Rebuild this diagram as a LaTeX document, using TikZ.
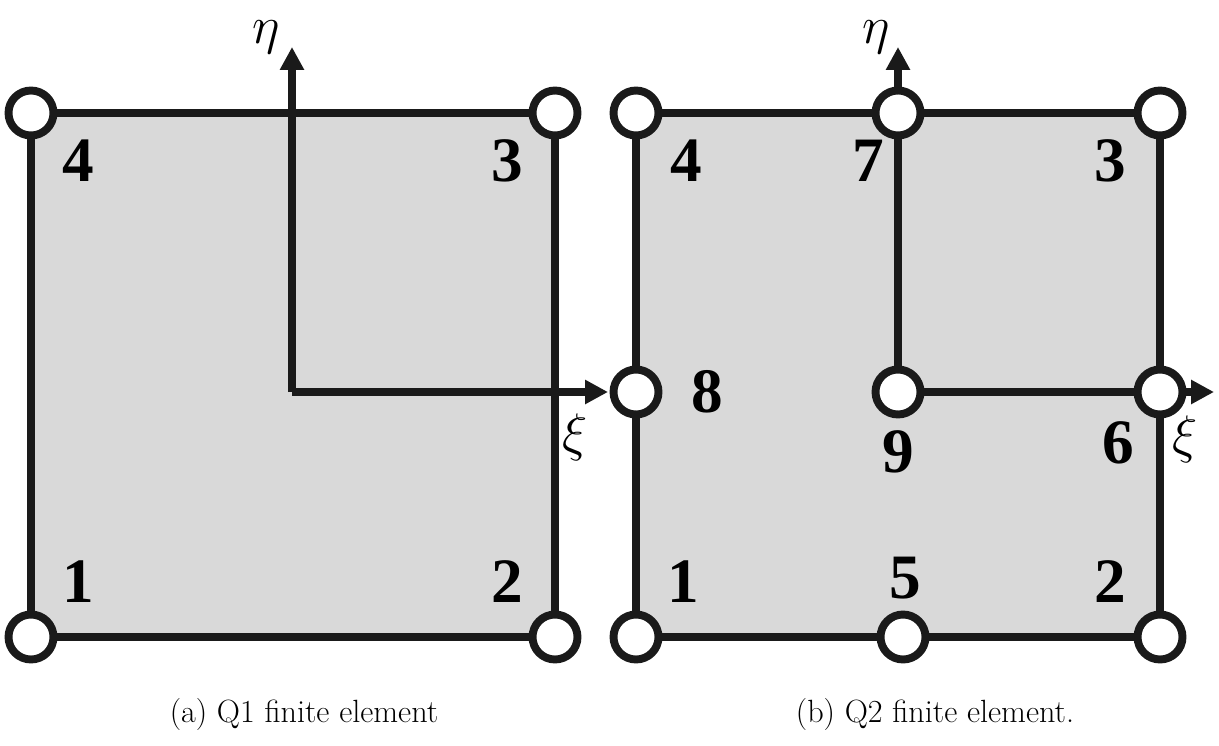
\documentclass[tikz,border=0pt]{standalone}
\usepackage{fontspec}
\usepackage{xcolor}
\usepackage{tikz}
\usetikzlibrary{arrows.meta, backgrounds}
\newfontfamily\numfont{Liberation Serif}
\definecolor{edgecol}{HTML}{1A1A1A}
\definecolor{elemfill}{HTML}{D9D9D9}
\newcommand{\axlabel}[1]{\scalebox{1.45}{$#1$}}
\tikzstyle{vertex} = [circle, draw=edgecol, fill=white, line width=4.5pt, minimum size=0.9cm, inner sep=0pt]
\tikzstyle{edge} = [draw=edgecol, line width=4.5pt]
\tikzstyle{elem} = [fill=elemfill]
\tikzstyle{axis} = [draw=edgecol, line width=4.5pt, -{Triangle[length=4.6mm, width=4.6mm]}]
\tikzstyle{num} = [font=\numfont\fontsize{36}{36}\selectfont\bfseries, inner sep=0pt]
\tikzstyle{coord} = [font=\fontsize{20.74}{20.74}\selectfont, inner sep=0pt]
\tikzstyle{caption} = [font=\fontsize{18.3}{22}\selectfont, inner sep=0pt]

\begin{document}
\begin{tikzpicture}[x=0.02cm, y=-0.02cm]
\useasboundingbox (0,0) rectangle (1219,746);
% Q1 element
\node (a1) [vertex] at (31,637) {};
\node (a2) [vertex] at (555,637) {};
\node (a3) [vertex] at (555,113) {};
\node (a4) [vertex] at (31,113) {};
\coordinate (ao) at (292,392);
\coordinate (aeta) at (292,47);
\coordinate (axi) at (608,392);
\begin{scope}[on background layer]
\fill [elem] (a1.center) rectangle (a3.center);
\draw [edge] (a1) -- (a2) -- (a3) -- (a4) -- (a1);
\end{scope}
\draw [axis] (ao) -- (aeta);
\draw [axis] (ao) -- (axi);
\node (la1) [num] at (78,582) {1};
\node (la2) [num] at (507,582) {2};
\node (la3) [num] at (507,161) {3};
\node (la4) [num] at (78,161) {4};
\node (leta) [coord, anchor=north] at (266,20) {\axlabel{\eta}};
\node (lxi) [coord] at (575,437) {\axlabel{\xi}};
% Q2 element
\node (b1) [vertex] at (636,637) {};
\node (b2) [vertex] at (1160,637) {};
\node (b3) [vertex] at (1160,113) {};
\node (b4) [vertex] at (636,113) {};
\node (b5) [vertex] at (903,637) {};
\node (b6) [vertex] at (1160,392) {};
\node (b7) [vertex] at (898,113) {};
\node (b8) [vertex] at (636,392) {};
\node (b9) [vertex] at (898,392) {};
\coordinate (beta) at (898,47);
\coordinate (bxi) at (1214,392);
\begin{scope}[on background layer]
\fill [elem] (b1.center) rectangle (b3.center);
\draw [edge] (b1) -- (b5) -- (b2) -- (b6) -- (b3) -- (b7) -- (b4) -- (b8) -- (b1);
\end{scope}
\draw [edge] (b7) -- (b9) -- (b6);
\draw [axis] (b7) -- (beta);
\draw [axis] (b6) -- (bxi);
\node (lb1) [num] at (683,582) {1};
\node (lb2) [num] at (1110,582) {2};
\node (lb3) [num] at (1110,161) {3};
\node (lb4) [num] at (686,161) {4};
\node (lb5) [num] at (905,578) {5};
\node (lb6) [num] at (1118,443) {6};
\node (lb7) [num] at (868,161) {7};
\node (lb8) [num] at (707,392) {8};
\node (lb9) [num] at (898,452) {9};
\node (leta2) [coord, anchor=north] at (876,20) {\axlabel{\eta}};
\node (lxi2) [coord] at (1185,439) {\axlabel{\xi}};
% captions
\node (capa) [caption] at (304,714) {(a) Q1 finite element};
\node (capb) [caption] at (935,714) {(b) Q2 finite element.};
\end{tikzpicture}
\end{document}
